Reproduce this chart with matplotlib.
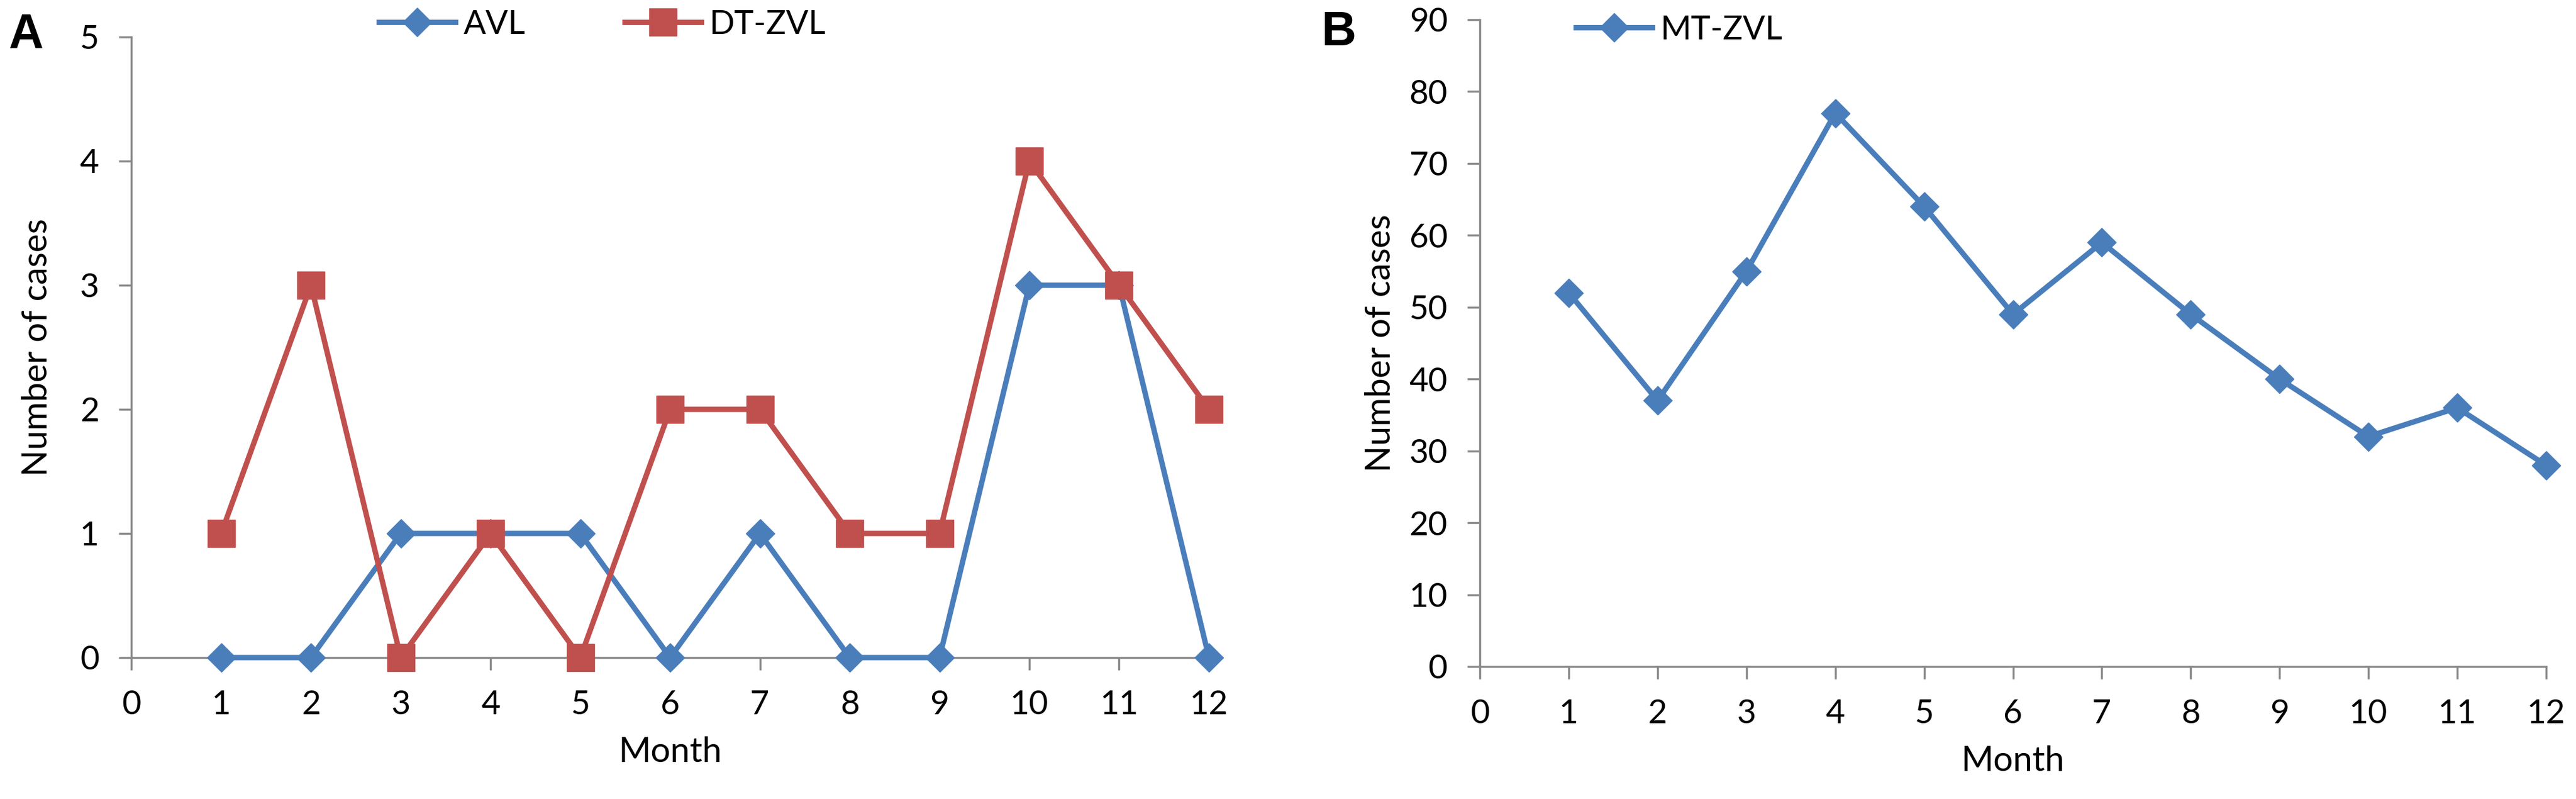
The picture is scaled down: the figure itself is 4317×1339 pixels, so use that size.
import numpy as np
import matplotlib.pyplot as plt

plt.rcParams['font.family'] = ['Lato', 'DejaVu Sans']

months = np.arange(1, 13)
avl = [0, 0, 1, 1, 1, 0, 1, 0, 0, 3, 3, 0]
dt_zvl = [1, 3, 0, 1, 0, 2, 2, 1, 1, 4, 3, 2]
mt_zvl = [52, 37, 55, 77, 64, 49, 59, 49, 40, 32, 36, 28]

BLUE = '#4a7ebb'
RED = '#c0504d'
AXIS = '#8a8a8a'
FS = 40

fig = plt.figure(figsize=(43.17, 13.39), dpi=100)
axA = fig.add_axes([0.0510, 0.177, 0.4183, 0.7767])
axB = fig.add_axes([0.5745, 0.1658, 0.4139, 0.8096])


def style_axes(ax, ymax, ystep, xlab_y, ylab_x):
    ax.set_xlim(0, 12)
    ax.set_ylim(0, ymax)
    ax.set_xticks(range(0, 13))
    ax.set_yticks(np.arange(0, ymax + 1, ystep))
    for s in ['top', 'right']:
        ax.spines[s].set_visible(False)
    for s in ['left', 'bottom']:
        ax.spines[s].set_color(AXIS)
        ax.spines[s].set_linewidth(2.5)
    ax.tick_params(axis='both', colors=AXIS, width=2.5, length=15,
                   labelsize=FS, labelcolor='black', pad=24)
    ax.set_xlabel('Month', fontsize=FS + 2, va='baseline')
    ax.xaxis.set_label_coords(0.5, xlab_y)
    ax.set_ylabel('Number of cases', fontsize=FS + 2, va='center')
    ax.yaxis.set_label_coords(ylab_x, 0.5)


# panel A
style_axes(axA, 5, 1, -0.168, -0.0875)
axA.plot(months, avl, color=BLUE, lw=6.5, marker='D', ms=24,
         clip_on=False, label='AVL', zorder=3)
axA.plot(months, dt_zvl, color=RED, lw=6.5, marker='s', ms=33,
         clip_on=False, label='DT-ZVL', zorder=4)
axA.legend(loc='center', bbox_to_anchor=(0.437, 1.02), ncol=2,
           frameon=False, fontsize=FS, handlelength=2.3, columnspacing=3.0,
           handletextpad=0.25, borderaxespad=0, borderpad=0)
fig.text(0.0035, 0.985, 'A', fontsize=58, fontweight='bold', va='top',
         family='Liberation Sans')

# panel B
style_axes(axB, 90, 10, -0.1614, -0.0935)
axB.plot(months, mt_zvl, color=BLUE, lw=6.5, marker='D', ms=24,
         clip_on=False, label='MT-ZVL', zorder=3)
axB.legend(loc='center', bbox_to_anchor=(0.187, 0.984), ncol=1,
           frameon=False, fontsize=FS, handlelength=2.3,
           handletextpad=0.25, borderaxespad=0, borderpad=0)
fig.text(0.513, 0.987, 'B', fontsize=58, fontweight='bold', va='top',
         family='Liberation Sans')

fig.savefig('out.png', dpi=100, facecolor='white')
